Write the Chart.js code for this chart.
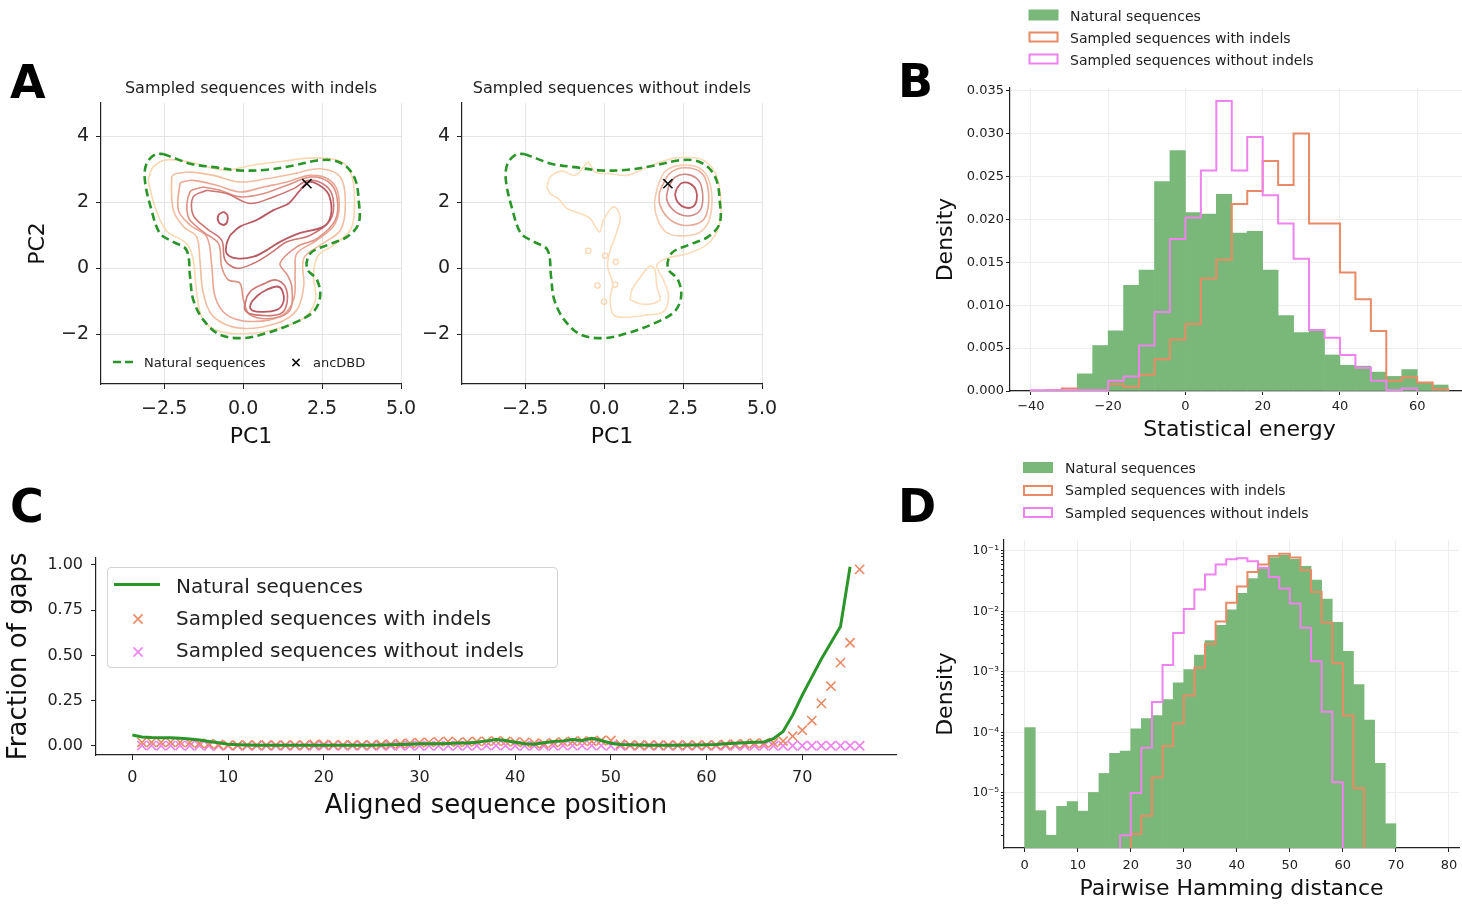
<!DOCTYPE html>
<html>
<head>
<meta charset="utf-8">
<script src="https://cdn.jsdelivr.net/npm/chart.js@4.4.0/dist/chart.umd.min.js"></script>
<style>
  body { margin: 0; background: #fff; }
  #fig { position: relative; width: 1462px; height: 905px; overflow: hidden; background: #fff; font-family: 'DejaVu Sans', sans-serif; color: #222; }
  #fig canvas { position: absolute; }
  .t { position: absolute; white-space: nowrap; line-height: 1; z-index: 5; }
  .letter { font-weight: bold; color: #000; }
  svg.ov { position: absolute; left: 0; top: 0; z-index: 4; }
  #legC { position: absolute; left: 107px; top: 567px; width: 451px; height: 101px; border: 1px solid #d3d3d3; border-radius: 4px; background: rgba(255,255,255,0.85); z-index: 3; box-sizing: border-box; }
</style>
</head>
<body>
<div id="fig">
  <div id="legC"></div>
</div>
<script>
// ---------- panel A : PCA contours (traced levels, data units) ----------
const pcaXTicks = [-2.5, 0, 2.5, 5];
const pcaYTicks = [-2, 0, 2, 4];
const ancDBD = [2.02, 2.56];

const naturalContour = [[-2.53,3.46],[-2.11,3.31],[-1.68,3.16],[-0.94,3.06],[-0.10,2.96],[0.75,2.98],[1.60,3.11],[2.34,3.26],[2.87,3.26],[3.29,3.06],[3.56,2.66],[3.66,2.06],[3.66,1.36],[3.29,0.95],[2.66,0.70],[2.13,0.45],[2.02,0.00],[2.34,-0.35],[2.44,-0.85],[2.23,-1.31],[1.60,-1.66],[0.75,-1.96],[0.01,-2.11],[-0.73,-2.01],[-1.26,-1.56],[-1.58,-0.95],[-1.68,-0.25],[-1.79,0.55],[-2.21,0.80],[-2.63,1.05],[-2.90,1.76],[-3.11,2.66],[-3.06,3.16],[-2.79,3.44]];

const indelsLevel1 = [[-3.01,2.66],[-2.85,3.06],[-2.42,3.28],[-1.68,3.21],[-0.62,2.98],[0.43,3.14],[1.28,3.24],[2.23,3.34],[3.08,3.24],[3.42,2.86],[3.53,2.06],[3.42,1.20],[2.87,0.70],[2.39,0.40],[2.23,-0.15],[2.29,-0.95],[1.92,-1.51],[0.96,-1.86],[-0.10,-1.98],[-0.89,-1.86],[-1.31,-1.46],[-1.47,-0.75],[-1.58,0.25],[-1.79,0.75],[-2.42,1.13],[-2.79,1.86]];
const indelsLevel2 = [[-2.16,2.86],[-1.68,2.91],[-0.94,2.81],[-0.10,2.61],[0.75,2.71],[1.60,2.86],[2.44,3.01],[3.08,2.76],[3.24,1.96],[3.08,1.15],[2.44,0.70],[1.92,0.30],[1.92,-0.55],[1.70,-1.26],[1.07,-1.66],[-0.10,-1.81],[-0.94,-1.46],[-1.26,-0.75],[-1.37,0.25],[-1.47,0.95],[-1.89,1.26],[-2.21,1.76],[-2.26,2.76]];
const indelsLevel3 = [[-1.95,2.61],[-1.58,2.66],[-0.84,2.51],[-0.10,2.31],[0.65,2.46],[1.39,2.61],[2.13,2.81],[2.76,2.66],[3.03,2.16],[2.92,1.36],[2.34,0.85],[1.70,0.45],[1.65,-0.05],[1.60,-0.95],[1.17,-1.46],[0.22,-1.61],[-0.52,-1.41],[-0.89,-0.85],[-0.99,0.05],[-1.15,0.95],[-1.68,1.31],[-2.05,1.76],[-2.00,2.56]];
const indelsLevel4 = [[-1.26,2.46],[-0.73,2.36],[-0.10,2.16],[0.65,2.26],[1.39,2.51],[2.13,2.76],[2.71,2.61],[2.97,2.16],[2.92,1.46],[2.34,0.90],[1.70,0.65],[1.17,0.15],[1.40,-0.20],[1.54,-0.55],[1.49,-1.26],[0.96,-1.51],[0.22,-1.41],[0.01,-0.95],[-0.10,-0.45],[-0.47,-0.35],[-0.68,0.05],[-0.78,0.75],[-1.26,1.10],[-1.74,1.56],[-1.68,2.31]];
const indelsLevel5Upper = [[-1.15,2.36],[-0.52,2.26],[0.22,1.96],[0.96,2.16],[1.60,2.41],[2.07,2.66],[2.60,2.51],[2.85,2.11],[2.76,1.46],[2.13,1.00],[1.39,0.80],[0.86,0.45],[0.33,0.15],[-0.20,0.00],[-0.57,0.25],[-0.68,0.85],[-1.15,1.20],[-1.58,1.61],[-1.58,2.16]];
const indelsLevel5Lower = [[0.12,-0.85],[0.28,-0.65],[0.59,-0.50],[1.02,-0.35],[1.33,-0.55],[1.39,-1.05],[1.17,-1.38],[0.38,-1.41],[0.06,-1.26]];
const indelsLevel6Ridge = [[-0.41,1.00],[-0.10,1.26],[0.43,1.46],[0.96,1.76],[1.44,1.96],[1.76,2.31],[2.07,2.61],[2.50,2.46],[2.74,2.16],[2.78,1.61],[2.55,1.26],[1.81,1.07],[1.17,0.80],[0.75,0.55],[0.33,0.35],[-0.20,0.30],[-0.52,0.45],[-0.52,0.75]];
const indelsLevel6Lower = [[0.28,-1.00],[0.49,-0.80],[0.75,-0.65],[1.07,-0.55],[1.23,-0.65],[1.28,-1.00],[1.07,-1.26],[0.43,-1.31],[0.22,-1.20]];
const indelsLevel6Island = [[-0.62,1.71],[-0.50,1.61],[-0.50,1.41],[-0.62,1.31],[-0.78,1.41],[-0.78,1.61]];

const noIndelsOuter = [[-1.81,2.46],[-1.71,2.76],[-1.34,2.94],[-0.92,2.81],[-0.65,3.06],[-0.50,3.21],[-0.28,2.91],[0.19,2.86],[0.72,2.81],[1.14,2.96],[1.67,3.18],[2.30,3.34],[3.04,3.31],[3.51,2.91],[3.69,2.16],[3.65,1.31],[3.30,0.75],[2.67,0.45],[1.98,0.30],[1.67,0.10],[1.88,-0.35],[2.04,-0.85],[1.88,-1.31],[1.35,-1.41],[0.72,-1.48],[0.30,-1.41],[0.19,-0.95],[0.27,-0.45],[0.11,0.05],[0.19,0.55],[0.35,0.95],[0.51,1.56],[0.30,1.86],[-0.02,1.46],[-0.13,1.10],[-0.28,1.26],[-0.44,1.51],[-0.76,1.66],[-1.18,1.81],[-1.45,2.11],[-1.71,2.26]];
const noIndelsLowerBlob = [[0.82,-0.95],[0.88,-0.65],[1.24,-0.15],[1.46,0.07],[1.61,-0.05],[1.67,-0.55],[1.77,-0.95],[1.51,-1.07],[1.14,-1.07]];
const noIndelsDots = [[-0.50,0.53],[0.03,0.38],[0.37,0.20],[-0.21,-0.52],[0.35,-0.49],[0.00,-1.01]];
const noIndelsRing1 = [[1.70,2.50],[1.95,2.95],[2.51,3.12],[3.10,2.98],[3.38,2.46],[3.36,1.56],[3.05,1.10],[2.51,0.98],[1.98,1.08],[1.70,1.46],[1.60,1.96]];
const noIndelsRing2 = [[1.82,2.46],[2.09,2.88],[2.56,3.04],[3.09,2.88],[3.30,2.36],[3.25,1.66],[2.99,1.36],[2.46,1.31],[2.04,1.51],[1.77,1.91],[1.75,2.26]];
const noIndelsRing3 = [[2.04,2.46],[2.25,2.76],[2.62,2.84],[2.99,2.66],[3.12,2.26],[3.07,1.81],[2.83,1.61],[2.46,1.61],[2.14,1.81],[1.98,2.11]];
const noIndelsRing4 = [[2.30,2.41],[2.46,2.58],[2.72,2.56],[2.91,2.36],[2.93,2.06],[2.81,1.86],[2.56,1.84],[2.35,1.98],[2.25,2.21]];

// ---------- panel B : statistical energy histograms ----------
const energyBinEdges = [-40,-36,-32,-28,-24,-20,-16,-12,-8,-4,0,4,8,12,16,20,24,28,32,36,40,44,48,52,56,60,64,68];
const naturalEnergy = [0,0,0,0.0020,0.0053,0.0070,0.0123,0.0141,0.0244,0.0280,0.0208,0.0206,0.0229,0.0184,0.0186,0.0141,0.0088,0.0068,0.0071,0.0042,0.0030,0.0029,0.0022,0.0017,0.0025,0.0009,0.0007];
const withIndelsEnergy = [null,0.0001,0.0003,0.0001,0.0001,0.0008,0.0005,0.0019,0.0037,0.0060,0.0078,0.0131,0.0153,0.0218,0.0233,0.0268,0.0240,0.0300,0.0195,0.0195,0.0138,0.0107,0.0070,0.0012,0.0016,0.0010,0.0002];
const withoutIndelsEnergy = [0.0001,0.0001,0.0001,0.0001,0.0001,0.0012,0.0017,0.0053,0.0092,0.0177,0.0202,0.0257,0.0338,0.0257,0.0296,0.0228,0.0195,0.0154,0.0071,0.0062,0.0042,0.0027,0.0012,0.0001,0.0003,null,null];
const energyXTicks = [-40,-20,0,20,40,60];
const energyYTicks = [0,0.005,0.010,0.015,0.020,0.025,0.030,0.035];

// ---------- panel C : fraction of gaps per aligned position ----------
const gapXTicks = [0,10,20,30,40,50,60,70];
const gapYTicks = [0,0.25,0.5,0.75,1.0];
const naturalGaps = [0.060,0.050,0.046,0.045,0.045,0.043,0.038,0.033,0.025,0.018,
  0.010,0.007,0.005,0.004,0.004,0.004,0.004,0.004,0.004,0.004,
  0.004,0.004,0.004,0.004,0.004,0.004,0.005,0.006,0.008,0.010,
  0.012,0.012,0.012,0.014,0.016,0.016,0.020,0.028,0.035,0.030,
  0.020,0.012,0.010,0.018,0.025,0.028,0.035,0.030,0.042,0.030,
  0.015,0.008,0.006,0.005,0.004,0.004,0.004,0.004,0.005,0.005,
  0.006,0.008,0.012,0.015,0.018,0.020,0.022,0.040,0.080,0.170,
  0.280,0.380,0.480,0.570,0.660,0.990];
const withIndelsGaps = [0.020,0.020,0.020,0.020,0.020,0.018,0.015,0.012,0.008,0.005,
  0.005,0.005,0.005,0.005,0.005,0.005,0.005,0.005,0.008,0.008,
  0.006,0.006,0.006,0.006,0.006,0.008,0.010,0.012,0.015,0.018,
  0.020,0.022,0.025,0.020,0.022,0.025,0.025,0.028,0.025,0.022,
  0.020,0.015,0.012,0.018,0.022,0.025,0.028,0.025,0.030,0.030,
  0.010,0.006,0.005,0.005,0.005,0.005,0.005,0.005,0.005,0.005,
  0.006,0.008,0.010,0.012,0.015,0.015,0.018,0.027,0.054,0.087,
  0.140,0.235,0.330,0.460,0.570,0.975];
const withoutIndelsGaps = [0.002,0.002,0.001,0.002,0.002,0.001,0.002,0.001,0.001,0.001,
  0.001,0.001,0.001,0.001,0.001,0.001,0.001,0.001,0.001,0.001,
  0.001,0.001,0.001,0.001,0.001,0.001,0.001,0.001,0.001,0.001,
  0.001,0.001,0.001,0.001,0.001,0.001,0.002,0.002,0.002,0.001,
  0.001,0.001,0.001,0.001,0.002,0.002,0.002,0.002,0.002,0.001,
  0.001,0.001,0.001,0.001,0.001,0.001,0.001,0.001,0.001,0.001,
  0.001,0.001,0.001,0.001,0.001,0.001,0.001,0.001,0.001,0.001,
  0.001,0.001,0.001,0.001,0.001,0.001];

// ---------- panel D : pairwise Hamming distance histograms ----------
const hammingBinEdges = [0,2,4,6,8,10,12,14,16,18,20,22,24,26,28,30,32,34,36,38,40,42,44,46,48,50,52,54,56,58,60,62,64,66,68,70];
const naturalHamming = [1.2e-4,5.1e-6,2.0e-6,6.0e-6,7.2e-6,5.0e-6,1.02e-5,2.1e-5,4.5e-5,4.9e-5,
  1.15e-4,1.7e-4,1.9e-4,3.5e-4,6.6e-4,1.1e-3,1.9e-3,3.3e-3,5.9e-3,1.07e-2,
  2.0e-2,3.5e-2,5.2e-2,7.8e-2,8.5e-2,7.3e-2,5.6e-2,3.3e-2,1.6e-2,6.6e-3,
  2.2e-3,6.2e-4,1.6e-4,3.1e-5,3.1e-6];
const withIndelsHamming = [null,null,null,null,null,null,null,null,null,null,
  2.1e-6,4.2e-6,1.8e-5,6.0e-5,1.4e-4,4.1e-4,1.17e-3,2.9e-3,6.8e-3,1.4e-2,
  2.6e-2,4.5e-2,6.0e-2,8.3e-2,9.0e-2,7.8e-2,4.8e-2,2.1e-2,6.6e-3,1.4e-3,
  1.9e-4,1.2e-5,null,null,null];
const withoutIndelsHamming = [null,null,null,null,null,null,null,null,null,2.0e-6,
  1.0e-5,5.6e-5,3.2e-4,1.3e-3,4.4e-3,1.1e-2,2.3e-2,4.1e-2,6.0e-2,7.3e-2,
  7.6e-2,6.8e-2,5.3e-2,3.7e-2,2.4e-2,1.36e-2,5.4e-3,1.5e-3,2.2e-4,1.5e-5,
  null,null,null,null,null];
const hammingXTicks = [0,10,20,30,40,50,60,70,80];
const hammingDecades = [1e-5,1e-4,1e-3,1e-2,1e-1];

// ---------- colours ----------
const GREEN_FILL = '#7ab87a';
const GREEN_LINE = '#2a962a';
const ORANGE = '#e98a66';
const VIOLET = '#ee82ee';
const indelsLevelColors = ['#fcd8b2', '#f3bea0', '#e9a793', '#dd9184', '#cb7574', '#b75a64'];

Chart.defaults.font.family = 'DejaVu Sans';
Chart.defaults.color = '#222';
Chart.defaults.animation = false;
Chart.defaults.plugins.legend.display = false;
Chart.defaults.plugins.tooltip.enabled = false;

const fig = document.getElementById('fig');

function makeCanvas(left, top, w, h) {
  const c = document.createElement('canvas');
  c.width = w; c.height = h;
  c.style.left = left + 'px'; c.style.top = top + 'px';
  c.style.width = w + 'px'; c.style.height = h + 'px';
  fig.appendChild(c);
  return c;
}

function axis(cfg) {
  return {
    type: cfg.type || 'linear',
    position: cfg.position,
    min: cfg.min, max: cfg.max,
    offset: false,
    afterBuildTicks: s => { s.ticks = cfg.ticks.map(v => ({ value: v })); },
    afterFit: s => { if (cfg.position === 'bottom') s.height = cfg.size; else s.width = cfg.size; },
    grid: { offset: false, color: cfg.gridColor || 'rgba(0,0,0,0)', lineWidth: 1, drawTicks: true,
            tickLength: cfg.tickLength || 5, tickColor: '#222', tickWidth: 1 },
    border: { display: true, color: '#222', width: 1.2 },
    ticks: { font: { size: cfg.fontSize }, color: '#222', padding: cfg.pad, callback: cfg.format,
             autoSkip: false, maxRotation: 0, minRotation: 0 },
    title: { display: !!cfg.title, text: cfg.title, font: { size: cfg.titleSize }, color: '#111', padding: cfg.titlePad || 0 }
  };
}

const minus = s => s.replace('-', '\u2212');
const toPts = arr => arr.map(p => ({ x: p[0], y: p[1] }));
const closed = arr => toPts(arr.concat([arr[0]]));

function contourSet(arr, color, width) {
  return { type: 'line', data: closed(arr), borderColor: color, borderWidth: width || 1.6,
           pointRadius: 0, tension: 0.35, fill: false };
}

function stepPoints(edges, values, floor) {
  let first = values.findIndex(v => v !== null);
  let last = values.length - 1;
  while (values[last] === null) last--;
  const pts = [{ x: edges[first], y: floor }];
  for (let i = first; i <= last; i++) pts.push({ x: edges[i], y: values[i] });
  pts.push({ x: edges[last + 1], y: floor });
  return pts;
}

function barPoints(edges, values) {
  return values.map((v, i) => ({ x: (edges[i] + edges[i + 1]) / 2, y: v }));
}

function stepSet(pts, color) {
  return { type: 'line', data: pts, borderColor: color, borderWidth: 2, stepped: true,
           pointRadius: 0, fill: false, borderJoinStyle: 'miter' };
}

function barSet(pts) {
  return { type: 'bar', data: pts, backgroundColor: GREEN_FILL, borderWidth: 0,
           barPercentage: 1, categoryPercentage: 1 };
}

// ---------- panel A charts ----------
const pcaGrid = '#e4e4e4';
function pcaChart(canvas, yWidth, showYTitle, datasets) {
  return new Chart(canvas, {
    type: 'line',
    data: { datasets },
    options: {
      responsive: false, devicePixelRatio: 1,
      layout: { padding: { left: 0, top: 33, right: canvas.width - 300 - yWidth, bottom: 0 } },
      scales: {
        x: axis({ position: 'bottom', min: -4.5, max: 5, ticks: pcaXTicks, size: 76, fontSize: 19, pad: 9,
                  gridColor: pcaGrid, format: v => minus(v.toFixed(1)), title: 'PC1', titleSize: 22, titlePad: 10 }),
        y: axis({ position: 'left', min: -3.5, max: 5, ticks: pcaYTicks, size: yWidth, fontSize: 19, pad: 7,
                  gridColor: pcaGrid, format: v => minus(String(v)),
                  title: showYTitle ? 'PC2' : '', titleSize: 22, titlePad: 25 })
      }
    }
  });
}

const ancSet = { type: 'line', data: toPts([ancDBD]), showLine: false, pointStyle: 'crossRot',
                 pointRadius: 6.5, borderColor: '#111', borderWidth: 1.6 };
const naturalSet = () => ({ type: 'line', data: closed(naturalContour), borderColor: GREEN_LINE, borderWidth: 2.6,
                 borderDash: [8, 4.5], pointRadius: 0, tension: 0.35, fill: false });

pcaChart(makeCanvas(0, 70, 430, 390), 101, true, [
  ancSet, naturalSet(),
  contourSet(indelsLevel6Ridge, indelsLevelColors[5], 1.8),
  contourSet(indelsLevel6Lower, indelsLevelColors[5], 1.8),
  contourSet(indelsLevel6Island, indelsLevelColors[5], 1.8),
  contourSet(indelsLevel5Upper, indelsLevelColors[4]),
  contourSet(indelsLevel5Lower, indelsLevelColors[4]),
  contourSet(indelsLevel4, indelsLevelColors[3]),
  contourSet(indelsLevel3, indelsLevelColors[2]),
  contourSet(indelsLevel2, indelsLevelColors[1]),
  contourSet(indelsLevel1, indelsLevelColors[0])
]);

pcaChart(makeCanvas(410, 70, 382, 390), 52, false, [
  Object.assign({}, ancSet), naturalSet(),
  contourSet(noIndelsRing4, '#b95a62', 1.8),
  contourSet(noIndelsRing3, '#cf8a86'),
  contourSet(noIndelsRing2, '#e6ab98'),
  contourSet(noIndelsRing1, '#f6cdb0'),
  contourSet(noIndelsLowerBlob, '#fddcb9'),
  contourSet(noIndelsOuter, '#fddcb9'),
  { type: 'line', data: toPts(noIndelsDots), showLine: false, pointStyle: 'circle', pointRadius: 2.6,
    borderColor: '#fdd6b0', borderWidth: 1.3, backgroundColor: 'rgba(0,0,0,0)' }
]);

// ---------- panel B chart ----------
const histGrid = '#ededed';
new Chart(makeCanvas(920, 70, 551, 390), {
  type: 'line',
  data: { datasets: [
    stepSet(stepPoints(energyBinEdges, withoutIndelsEnergy, 0), VIOLET),
    stepSet(stepPoints(energyBinEdges, withIndelsEnergy, 0), ORANGE),
    barSet(barPoints(energyBinEdges, naturalEnergy))
  ] },
  options: {
    responsive: false, devicePixelRatio: 1,
    layout: { padding: { left: 0, top: 18, right: 2, bottom: 0 } },
    scales: {
      x: axis({ position: 'bottom', min: -45.4, max: 73.4, ticks: energyXTicks, size: 69, fontSize: 13, pad: 4,
                tickLength: 4, gridColor: histGrid, format: v => minus(String(v)),
                title: 'Statistical energy', titleSize: 22, titlePad: 17 }),
      y: axis({ position: 'left', min: 0, max: 0.0353, ticks: energyYTicks, size: 90, fontSize: 13, pad: 2,
                tickLength: 4, gridColor: histGrid, format: v => v.toFixed(3),
                title: 'Density', titleSize: 22, titlePad: 13 })
    }
  }
});

// ---------- panel C chart ----------
new Chart(makeCanvas(0, 540, 905, 290), {
  type: 'line',
  data: { datasets: [
    { type: 'line', data: naturalGaps.map((v, i) => ({ x: i, y: v })), borderColor: GREEN_LINE,
      borderWidth: 3, pointRadius: 0, tension: 0, fill: false },
    { type: 'line', data: withIndelsGaps.map((v, i) => ({ x: i + 1, y: v })), showLine: false,
      pointStyle: 'crossRot', pointRadius: 6.5, borderColor: ORANGE, borderWidth: 1.6 },
    { type: 'line', data: withoutIndelsGaps.map((v, i) => ({ x: i + 1, y: v })), showLine: false,
      pointStyle: 'crossRot', pointRadius: 6.5, borderColor: VIOLET, borderWidth: 1.6 }
  ] },
  options: {
    responsive: false, devicePixelRatio: 1,
    layout: { padding: { left: 0, top: 15, right: 9, bottom: 0 } },
    scales: {
      x: axis({ position: 'bottom', min: -3.8, max: 79.8, ticks: gapXTicks, size: 75, fontSize: 16, pad: 8,
                format: v => String(v), title: 'Aligned sequence position', titleSize: 26, titlePad: 8 }),
      y: axis({ position: 'left', min: -0.05, max: 1.04, ticks: gapYTicks, size: 96, fontSize: 16, pad: 8,
                format: v => v.toFixed(2), title: 'Fraction of gaps', titleSize: 26, titlePad: 4 })
    }
  }
});

// ---------- panel D chart ----------
const SUP = { '-': '\u207B', '0': '\u2070', '1': '\u00B9', '2': '\u00B2', '3': '\u00B3', '4': '\u2074', '5': '\u2075', '6': '\u2076' };
const hammingYTicks = [];
hammingDecades.forEach(d => { for (let k = 1; k <= 9; k++) hammingYTicks.push(d * k / 10); });
hammingYTicks.push(1e-1);
const isDecade = v => hammingDecades.some(d => Math.abs(v / d - 1) < 1e-6);
const logFloor = 1e-9;

new Chart(makeCanvas(920, 520, 550, 385), {
  type: 'line',
  data: { datasets: [
    stepSet(stepPoints(hammingBinEdges, withoutIndelsHamming, logFloor), VIOLET),
    stepSet(stepPoints(hammingBinEdges, withIndelsHamming, logFloor), ORANGE),
    barSet(barPoints(hammingBinEdges, naturalHamming))
  ] },
  options: {
    responsive: false, devicePixelRatio: 1,
    layout: { padding: { left: 0, top: 20, right: 11, bottom: 0 } },
    scales: {
      x: axis({ position: 'bottom', min: -3.9, max: 81.9, ticks: hammingXTicks, size: 57, fontSize: 13, pad: 6,
                tickLength: 4, gridColor: histGrid, format: v => String(v),
                title: 'Pairwise Hamming distance', titleSize: 22, titlePad: 3 }),
      y: axis({ type: 'logarithmic', position: 'left', min: 1.23e-6, max: 0.152, ticks: hammingYTicks.filter(v => v >= 1.23e-6 && v <= 0.152),
                size: 84, fontSize: 12, pad: 2, tickLength: 3,
                gridColor: ctx => (ctx.tick && isDecade(ctx.tick.value)) ? histGrid : 'rgba(0,0,0,0)',
                format: v => isDecade(v) ? '10' + String(Math.round(Math.log10(v))).split('').map(c => SUP[c]).join('') : '',
                title: 'Density', titleSize: 22, titlePad: 13 })
    }
  }
});

// ---------- text overlays ----------
function txt(text, x, baseline, size, opts) {
  opts = opts || {};
  const d = document.createElement('div');
  d.className = 't' + (opts.cls ? ' ' + opts.cls : '');
  d.textContent = text;
  d.style.fontSize = size + 'px';
  d.style.left = x + 'px';
  d.style.top = (baseline - 0.846 * size) + 'px';
  if (opts.center) d.style.transform = 'translateX(-50%)';
  if (opts.color) d.style.color = opts.color;
  fig.appendChild(d);
}

txt('A', 10, 98, 46, { cls: 'letter' });
txt('B', 898, 97, 46, { cls: 'letter' });
txt('C', 10, 522, 46, { cls: 'letter' });
txt('D', 898, 522, 46, { cls: 'letter' });

txt('Sampled sequences with indels', 251, 94, 16, { center: true });
txt('Sampled sequences without indels', 612, 94, 16, { center: true });

txt('Natural sequences', 144, 366.5, 13);
txt('ancDBD', 313, 366.5, 13);

const legendLabels = ['Natural sequences', 'Sampled sequences with indels', 'Sampled sequences without indels'];
[20.5, 42.5, 64.5].forEach((b, i) => txt(legendLabels[i], 1070, b, 14));
[472.5, 495, 517.5].forEach((b, i) => txt(legendLabels[i], 1065, b, 14));
[592.5, 625, 657].forEach((b, i) => txt(legendLabels[i], 176, b, 20));

const svgNS = 'http://www.w3.org/2000/svg';
const svg = document.createElementNS(svgNS, 'svg');
svg.setAttribute('class', 'ov');
svg.setAttribute('width', 1462); svg.setAttribute('height', 905);
fig.appendChild(svg);
function shape(tag, attrs) {
  const el = document.createElementNS(svgNS, tag);
  Object.keys(attrs).forEach(k => el.setAttribute(k, attrs[k]));
  svg.appendChild(el);
}
function cross(cx, cy, r, color, w) {
  shape('path', { d: `M${cx - r},${cy - r}L${cx + r},${cy + r}M${cx - r},${cy + r}L${cx + r},${cy - r}`, stroke: color, 'stroke-width': w, fill: 'none' });
}
// panel A legend
shape('line', { x1: 113, y1: 362, x2: 137, y2: 362, stroke: GREEN_LINE, 'stroke-width': 2.4, 'stroke-dasharray': '8 4' });
cross(296, 362.5, 3.6, '#111', 1.5);
// panel B / D legend swatches
function swatches(x, tops) {
  shape('rect', { x: x, y: tops[0], width: 30, height: 11, fill: GREEN_FILL });
  shape('rect', { x: x + 1, y: tops[1] + 1, width: 28, height: 9, fill: 'none', stroke: ORANGE, 'stroke-width': 2 });
  shape('rect', { x: x + 1, y: tops[2] + 1, width: 28, height: 9, fill: 'none', stroke: VIOLET, 'stroke-width': 2 });
}
swatches(1028.5, [9.5, 31.5, 53.5]);
swatches(1023, [462, 485, 507]);
// panel C legend handles
shape('line', { x1: 114, y1: 584.5, x2: 160, y2: 584.5, stroke: GREEN_LINE, 'stroke-width': 3 });
cross(138, 619, 4.6, ORANGE, 1.6);
cross(138, 652, 4.6, VIOLET, 1.6);
</script>
</body>
</html>
